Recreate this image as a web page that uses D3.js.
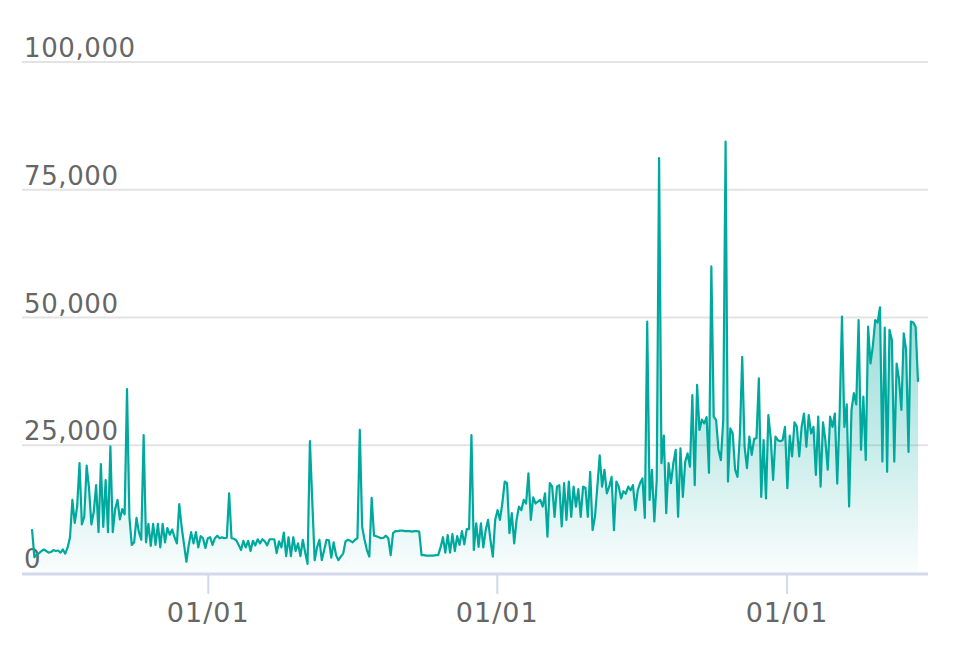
<!DOCTYPE html>
<html>
<head>
<meta charset="utf-8">
<script src="https://cdn.jsdelivr.net/npm/d3@7"></script>
<style>
  body { margin: 0; background: #fff; }
  svg { display: block; font-family: "DejaVu Sans", Verdana, sans-serif; }
</style>
</head>
<body>
<svg id="chart" width="956" height="648"></svg>
<script>
// daily-ish samples, one every 3 days from the start date
const startDate = "2018-05-24";
const stepDays = 3;
const values = [
  8600, 3100, 3600, 3900, 4300, 4600, 4300, 4000, 4100, 4500, 4300, 4400, 4000, 4600, 3800,
  5000, 7000, 14300, 9800, 13000, 21500, 9500, 11000, 21000, 16600, 9500, 12000, 17200, 8000, 21300,
  9000, 18200, 8000, 24800, 8000, 12500, 14300, 10500, 12500, 11500, 36000, 11000, 5500, 6000, 10800,
  8000, 6500, 27000, 6000, 9600, 5300, 9600, 5500, 9600, 5000, 9600, 6000, 8800, 7500, 8500,
  7000, 5800, 13500, 9000, 5600, 2200, 5500, 8000, 5800, 8000, 5000, 7200, 6800, 4900, 6800,
  7000, 5500, 6800, 7300, 6800, 7000, 6800, 6900, 15600, 6800, 6700, 6400, 5500, 4500, 6300,
  5000, 6300, 4300, 6300, 5400, 6600, 5800, 6600, 6200, 5400, 6600, 6600, 6600, 3900, 6200,
  5000, 7900, 3300, 7000, 3300, 7000, 4300, 5800, 3300, 6500, 4000, 1800, 25800, 14000, 2500,
  5000, 6500, 2500, 4500, 6500, 6400, 3000, 6000, 3500, 2500, 3200, 3800, 6200, 6500, 6300,
  6000, 6500, 6800, 28000, 9000, 6500, 4500, 3200, 14700, 7300, 7200, 7000, 6800, 6900, 7300,
  6800, 3500, 7800, 8200, 8200, 8300, 8300, 8200, 8200, 8200, 8100, 8200, 8200, 8100, 3500,
  3500, 3400, 3400, 3400, 3400, 3500, 3500, 5000, 7000, 4000, 7400, 4000, 7600, 4300, 7200,
  5500, 8200, 5600, 8600, 8600, 27000, 4500, 9700, 5100, 9700, 5000, 8400, 10400, 6500, 3200,
  10400, 12300, 10400, 13600, 17900, 17600, 7800, 11700, 5800, 10400, 13000, 12300, 14300, 13600, 19500,
  10400, 14800, 13600, 14000, 14300, 13000, 15600, 7100, 17600, 16900, 11000, 16900, 17200, 9100, 17600,
  10400, 17900, 11000, 16900, 13000, 16400, 11000, 16900, 16700, 11000, 19800, 8400, 11000, 16900, 23000,
  16900, 20200, 15600, 16900, 18800, 8400, 17900, 16900, 14600, 16000, 15500, 16900, 16200, 17200, 12300,
  16200, 17600, 18500, 10800, 49200, 14300, 20200, 10100, 18200, 81200, 21500, 26900, 11700, 21500, 17600,
  21500, 24100, 11000, 24400, 14900, 21800, 23400, 20800, 34800, 17200, 36800, 28000, 30000, 29300, 30500,
  19600, 60000, 30600, 29900, 24100, 22100, 29900, 84400, 17900, 28300, 27300, 20200, 18800, 27000, 42300,
  24700, 20500, 26700, 23100, 26200, 26400, 38100, 14900, 26000, 14600, 30900, 26400, 18200, 26700, 26000,
  25800, 26000, 28600, 16600, 26900, 22800, 29500, 28600, 22800, 28600, 31200, 24700, 30900, 27300, 28600,
  19200, 30600, 16900, 29500, 26000, 20200, 30600, 28600, 31200, 17500, 31200, 50200, 28600, 33000, 13000,
  31900, 35200, 33000, 49500, 24100, 34500, 22100, 48200, 41000, 44500, 49500, 49000, 52000, 21800, 48000,
  19800, 47600, 45600, 21800, 41000, 38000, 31900, 46900, 43600, 23700, 49200, 49000, 48200, 37400
];
const yTicks = [0, 25000, 50000, 75000, 100000];

const parse = d3.utcParse("%Y-%m-%d");
const t0 = parse(startDate);
const data = values.map((v, i) => ({ date: d3.utcDay.offset(t0, i * stepDays), value: v }));

const svg = d3.select("#chart");
const gridLeft = 22, gridRight = 928;

const x = d3.scaleUtc()
  .domain(d3.extent(data, d => d.date))
  .range([32, 918]);

const y = d3.scaleLinear()
  .domain([0, 100000])
  .range([573, 62]);

// gridlines
const yAxis = svg.append("g");
yAxis.selectAll("line")
  .data(yTicks.filter(d => d > 0))
  .enter()
  .append("line")
  .attr("x1", gridLeft)
  .attr("x2", gridRight)
  .attr("y1", d => y(d))
  .attr("y2", d => y(d))
  .style("stroke", "#e3e3e3")
  .style("stroke-width", 2);

// area gradient
const defs = svg.append("defs");
const grad = defs.append("linearGradient")
  .attr("id", "fillGrad")
  .attr("gradientUnits", "userSpaceOnUse")
  .attr("x1", 0).attr("x2", 0)
  .attr("y1", y(60000)).attr("y2", y(0));
grad.append("stop").attr("offset", "0%").attr("stop-color", "#00a99d").attr("stop-opacity", 0.45);
grad.append("stop").attr("offset", "58%").attr("stop-color", "#00a99d").attr("stop-opacity", 0.22);
grad.append("stop").attr("offset", "100%").attr("stop-color", "#00a99d").attr("stop-opacity", 0.02);

svg.append("path")
  .datum(data)
  .attr("d", d3.area().x(d => x(d.date)).y0(y(0)).y1(d => y(d.value)))
  .style("fill", "url(#fillGrad)");

// bottom axis
const xAxis = d3.axisBottom(x)
  .tickValues(d3.utcYear.range(data[0].date, data[data.length - 1].date).map(d => d3.utcYear.ceil(d)))
  .tickFormat(d3.utcFormat("%m/%d"))
  .tickSize(20)
  .tickPadding(9);

const gx = svg.append("g")
  .attr("transform", `translate(0,${y(0) + 1})`)
  .call(xAxis);
gx.select(".domain").remove();
gx.selectAll(".tick line").style("stroke", "#d3d8ec").style("stroke-width", 2);
gx.selectAll(".tick text")
  .style("font-family", "DejaVu Sans, sans-serif")
  .style("font-size", "27px")
  .style("letter-spacing", "1px")
  .style("fill", "#666");

svg.append("line")
  .attr("x1", gridLeft)
  .attr("x2", gridRight)
  .attr("y1", y(0) + 1)
  .attr("y2", y(0) + 1)
  .style("stroke", "#d3d8ec")
  .style("stroke-width", 3);

yAxis.selectAll("text")
  .data(yTicks)
  .enter()
  .append("text")
  .attr("x", 24)
  .attr("y", d => y(d) - 5)
  .style("font-size", "26px")
  .style("letter-spacing", "0.6px")
  .style("fill", "#666")
  .text(d => d3.format(",")(d));

// line
svg.append("path")
  .datum(data)
  .attr("d", d3.line().x(d => x(d.date)).y(d => y(d.value)))
  .style("fill", "none")
  .style("stroke", "#00a99d")
  .style("stroke-width", 2.2)
  .style("stroke-linejoin", "round");
</script>
</body>
</html>
